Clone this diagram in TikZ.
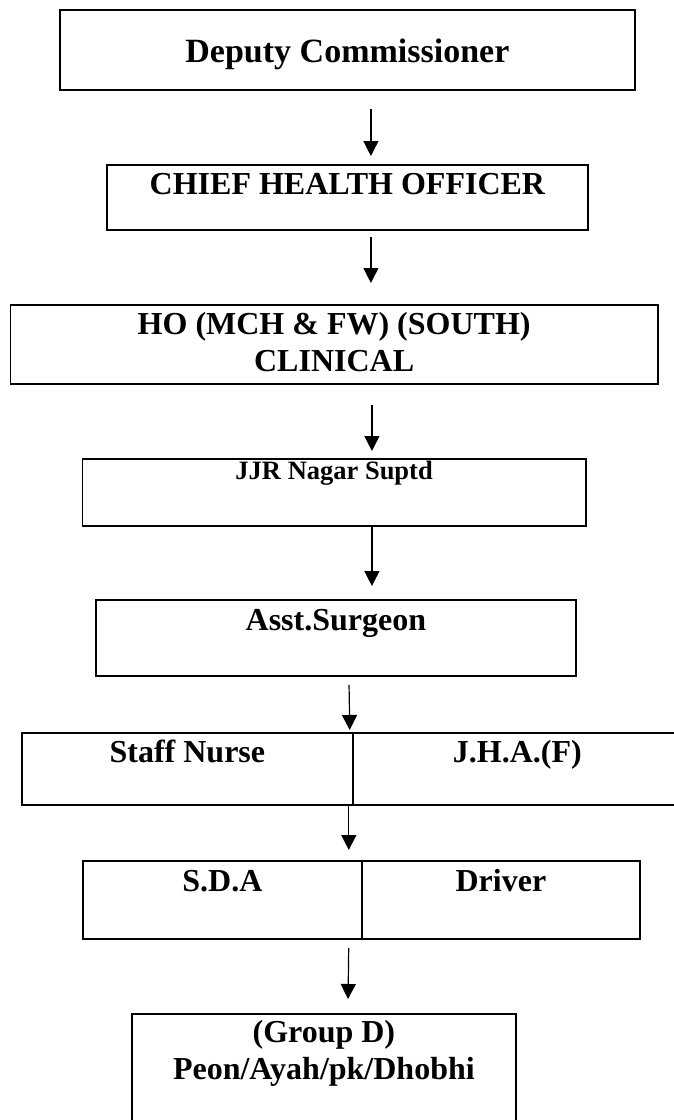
\documentclass[tikz,border=0pt]{standalone}
\usepackage{fontspec}
\setmainfont{Liberation Serif}
\usepackage{tikz}
\usetikzlibrary{positioning, arrows.meta}

\begin{document}
\begin{tikzpicture}[x=1pt,y=-1pt]
    \tikzset{post/.style={draw,line width=1.8pt,anchor=north west,inner ysep=0pt,inner xsep=2pt,align=center,font=\bfseries\fontsize{32}{37}\selectfont}, arr/.style={-{Triangle[width=15pt,length=15pt]},line width=1.2pt}}
    \useasboundingbox (0,0) rectangle (674,1120);
    \clip (0,0) rectangle (674,1120);
    \node[post,minimum width=575pt,text height=53pt,text depth=27pt,font=\bfseries\fontsize{34}{40}\selectfont] (dc) at (59,9) {Deputy Commissioner};
    \node[post,minimum width=481pt,text height=30pt,text depth=35pt] (cho) at (106,164) {CHIEF HEALTH OFFICER};
    \node[post,minimum width=647.5pt,text height=67pt,text depth=12pt] (ho) at (9.5,304) {HO (MCH \& FW) (SOUTH)\\CLINICAL};
    \node[post,minimum width=503.5pt,text height=21pt,text depth=46pt,font=\bfseries\fontsize{26.5}{30}\selectfont] (jjr) at (81.5,458) {JJR Nagar Suptd};
    \node[post,minimum width=480pt,text height=31pt,text depth=45pt] (asst) at (95,599) {Asst.Surgeon};
    \node[post,minimum width=331pt,text height=30pt,text depth=42pt] (staff) at (21,732) {Staff Nurse};
    \node[post,minimum width=329pt,text height=30pt,text depth=42pt] (jha) at (352,732) {J.H.A.(F)};
    \node[post,minimum width=279pt,text height=31pt,text depth=47pt] (sda) at (82,860) {S.D.A};
    \node[post,minimum width=278pt,text height=31pt,text depth=47pt] (drv) at (361,860) {Driver};
    \node[post,minimum width=384pt,text height=66pt,text depth=46pt] (grp) at (131,1013) {(Group D)\\Peon/Ayah/pk/Dhobhi};
    % chain of command
    \draw[arr,shorten <=18pt,shorten >=8pt] ([xshift=23.5pt]dc.south) -- ([xshift=23.5pt]cho.north);
    \draw[arr,shorten <=6pt,shorten >=21pt] ([xshift=23.5pt]cho.south) -- ([xshift=36.75pt]ho.north);
    \draw[arr,shorten <=20pt,shorten >=7pt] ([xshift=37.75pt]ho.south) -- ([xshift=37.75pt]jjr.north);
    \draw[arr,shorten >=13pt] ([xshift=37.75pt]jjr.south) -- ([xshift=36pt]asst.north);
    \draw[arr,shorten <=8pt,shorten >=2pt] ([xshift=13pt]asst.south) -- ([xshift=-4pt]staff.north east);
    \draw[arr,shorten >=10pt] ([xshift=-5pt]staff.south east) -- ([xshift=-14pt]sda.north east);
    \draw[arr,shorten <=8pt,shorten >=14pt] ([xshift=-14pt]sda.south east) -- ([xshift=24pt]grp.north);
\end{tikzpicture}
\end{document}
